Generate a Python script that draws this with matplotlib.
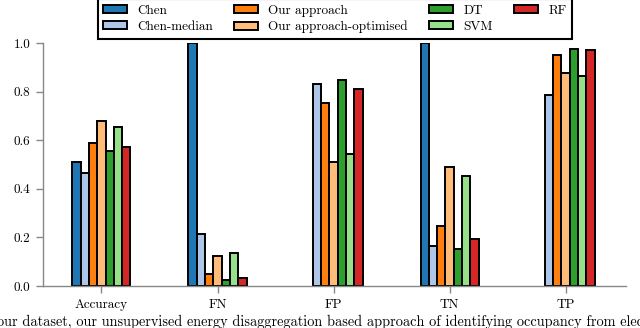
import numpy as np
from matplotlib import pyplot as plt

plt.rcParams["font.family"] = "cmr10"
plt.rcParams["axes.formatter.use_mathtext"] = True

categories = ["Accuracy", "FN", "FP", "TN", "TP"]
methods = ["Chen", "Chen-median", "Our approach", "Our approach-optimised", "DT", "SVM", "RF"]

chen = [0.512, 1.0, 0.0, 1.0, 0.0]
chen_median = [0.466, 0.214, 0.833, 0.166, 0.786]
ours = [0.590, 0.049, 0.752, 0.248, 0.949]
ours_opt = [0.679, 0.122, 0.509, 0.491, 0.875]
dt = [0.556, 0.025, 0.846, 0.154, 0.975]
svm = [0.654, 0.136, 0.545, 0.454, 0.863]
rf = [0.572, 0.032, 0.809, 0.193, 0.970]

series = [chen, chen_median, ours, ours_opt, dt, svm, rf]
colors = ["#1f77b4", "#aec7e8", "#ff7f0e", "#ffbb78", "#2ca02c", "#98df8a", "#d62728"]

fig = plt.figure(figsize=(6.4, 3.28), dpi=100)
ax = fig.add_axes([0.067, 0.128, 0.911, 0.741])

X = np.arange(len(categories))
w = 0.5 / len(series)
for i, (vals, name, c) in enumerate(zip(series, methods, colors)):
    # zero-height bars are not drawn in the original
    lw = [1.4 if v > 0 else 0 for v in vals]
    ax.bar(X - 0.25 + w * (i + 0.5), vals, w, color=c, edgecolor="black",
           linewidth=lw, label=name)

ax.set_xlim(-0.505, 4.52)
ax.set_ylim(0, 1.0)
ax.set_xticks(X)
ax.set_xticklabels(categories)
ax.set_yticks([0.0, 0.2, 0.4, 0.6, 0.8, 1.0])
ax.set_yticklabels(["0.0", "0.2", "0.4", "0.6", "0.8", "1.0"])
for s in ["top", "right"]:
    ax.spines[s].set_visible(False)
for s in ["left", "bottom"]:
    ax.spines[s].set_color("#888888")
    ax.spines[s].set_linewidth(1.0)
ax.tick_params(colors="#888888", labelcolor="black", labelsize=9.5, length=5, width=1.0, pad=4)

leg = fig.legend(loc="upper center", bbox_to_anchor=(0.523, 1.002), ncol=4,
                 fontsize=9.5, frameon=True, fancybox=False, edgecolor="black",
                 framealpha=1, handlelength=1.8, handleheight=0.55, handletextpad=0.8,
                 columnspacing=1.6, labelspacing=0.3, borderpad=0.4, borderaxespad=0)
leg.get_frame().set_linewidth(1.5)
for h in leg.legend_handles:
    h.set_linewidth(1.4)

fig.text(-0.004, 0.006, "our dataset, our unsupervised energy disaggregation based approach of identifying occupancy from electricity",
         fontsize=10.3, ha="left", va="baseline")

fig.savefig("out.png", dpi=100)
